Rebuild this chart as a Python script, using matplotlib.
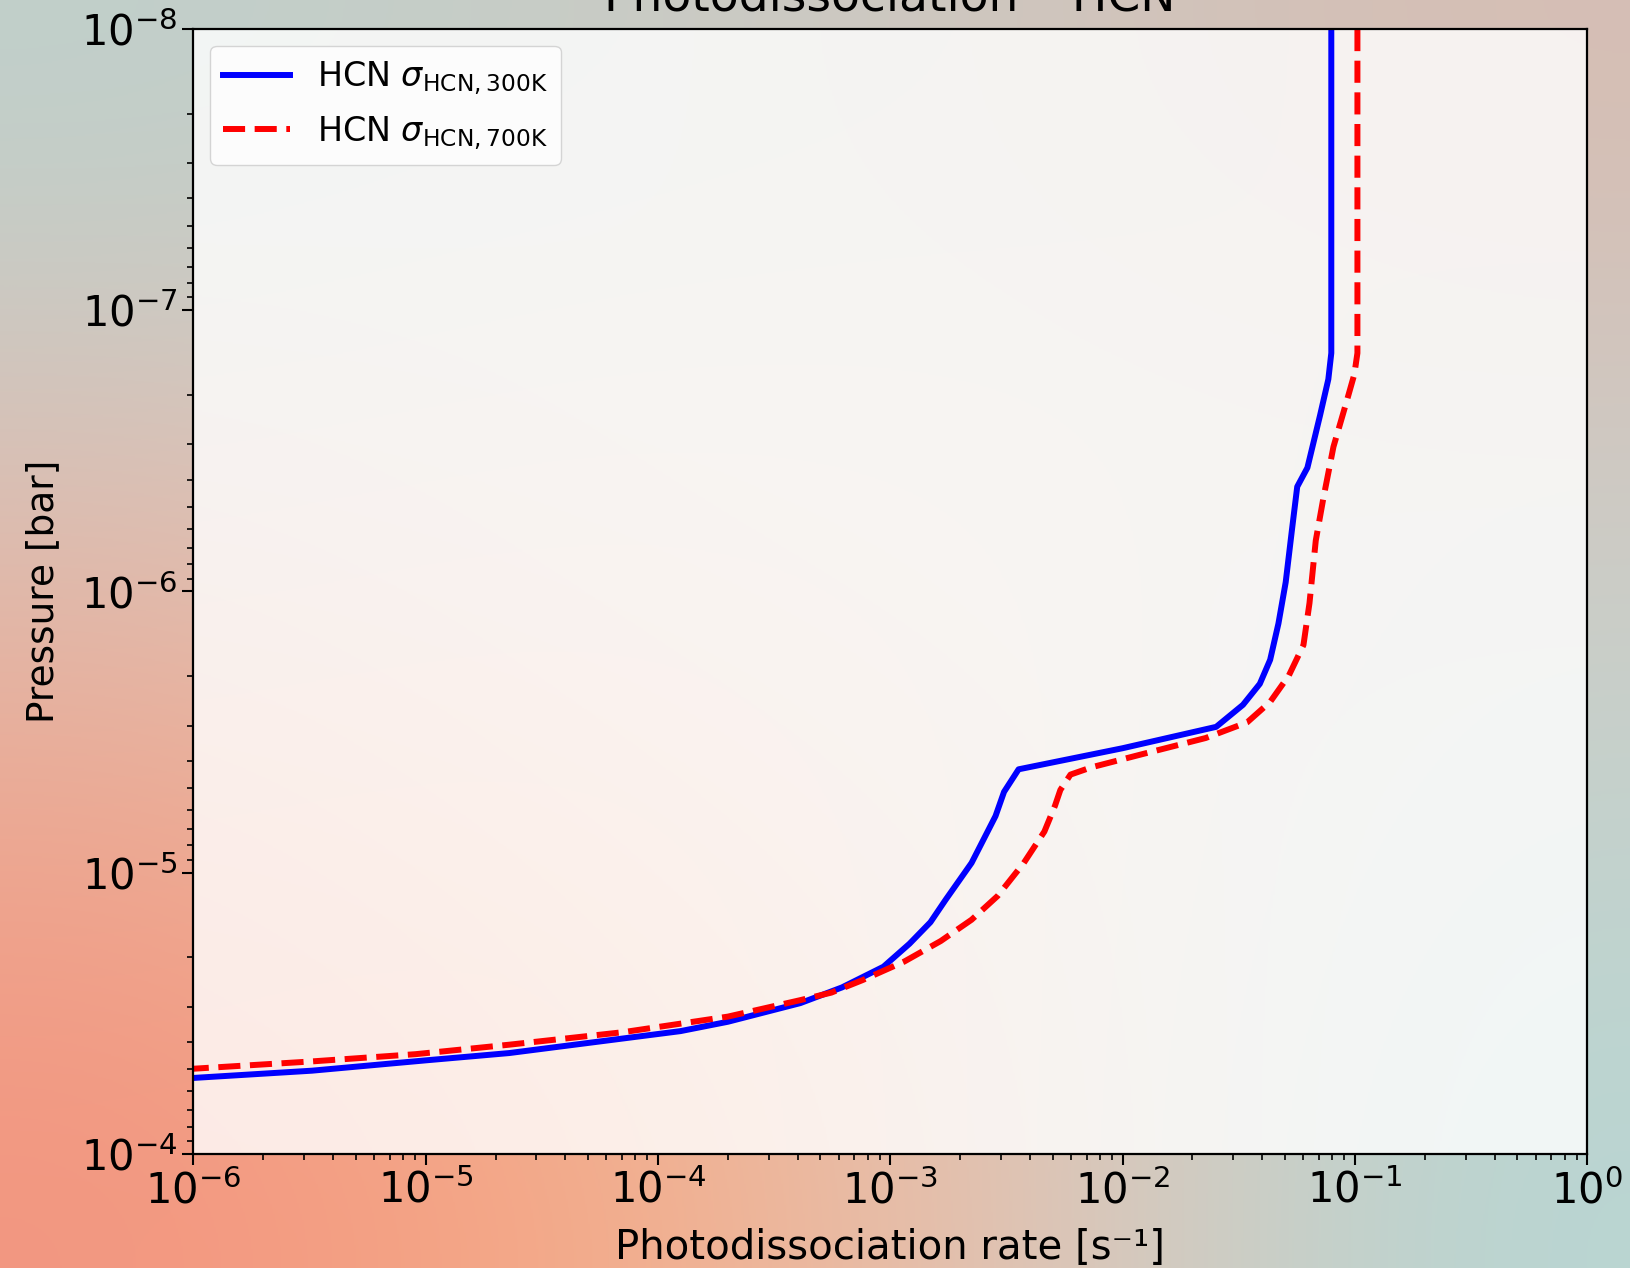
import numpy as np
import matplotlib
matplotlib.use("Agg")
import matplotlib.pyplot as plt

# HCN photodissociation rate profiles for two cross-section temperatures
rate_300k = [0.0792, 0.0792, 0.0769, 0.0708, 0.0625, 0.0565, 0.0536, 0.0504,
             0.0469, 0.0432, 0.0390, 0.0330, 0.0253, 0.0100, 3.57e-3, 3.09e-3,
             2.84e-3, 2.24e-3, 1.73e-3, 1.49e-3, 1.21e-3, 9.35e-4, 6.19e-4,
             4.10e-4, 2.00e-4, 1.25e-4, 2.29e-5, 1.00e-5, 3.24e-6, 1.00e-6]
pres_300k = [1.0e-8, 1.42e-7, 1.76e-7, 2.37e-7, 3.63e-7, 4.24e-7, 6.05e-7, 9.27e-7,
             1.30e-6, 1.75e-6, 2.13e-6, 2.53e-6, 3.03e-6, 3.61e-6, 4.29e-6, 5.16e-6,
             6.29e-6, 9.23e-6, 1.25e-5, 1.50e-5, 1.79e-5, 2.16e-5, 2.56e-5,
             2.91e-5, 3.39e-5, 3.66e-5, 4.38e-5, 4.65e-5, 5.06e-5, 5.37e-5]

rate_700k = [0.1026, 0.1026, 0.0995, 0.0925, 0.0809, 0.0769, 0.0731, 0.0679,
             0.0638, 0.0601, 0.0520, 0.0432, 0.0344, 0.0228, 0.0123, 7.35e-3,
             5.97e-3, 5.40e-3, 5.12e-3, 4.61e-3, 3.76e-3, 2.90e-3, 2.24e-3,
             1.65e-3, 1.15e-3, 7.60e-4, 5.58e-4, 4.10e-4, 2.00e-4, 7.11e-5,
             2.29e-5, 9.06e-6, 3.24e-6, 1.00e-6]
pres_700k = [1.0e-8, 1.42e-7, 1.69e-7, 2.09e-7, 3.06e-7, 3.79e-7, 4.69e-7, 6.59e-7,
             1.10e-6, 1.55e-6, 1.99e-6, 2.47e-6, 2.92e-6, 3.32e-6, 3.78e-6, 4.22e-6,
             4.48e-6, 5.08e-6, 5.78e-6, 7.14e-6, 9.23e-6, 1.21e-5, 1.47e-5,
             1.75e-5, 2.07e-5, 2.41e-5, 2.67e-5, 2.84e-5, 3.25e-5, 3.69e-5,
             4.09e-5, 4.42e-5, 4.69e-5, 4.98e-5]

labels = [r"HCN $\sigma_{\mathrm{HCN,300K}}$", r"HCN $\sigma_{\mathrm{HCN,700K}}$"]

fig = plt.figure(figsize=(16.3, 12.68), dpi=100)

# soft coloured backdrop behind the whole figure
bg = np.array([
    [[192, 208, 203], [200, 204, 198], [206, 198, 190], [214, 190, 180]],
    [[218, 192, 182], [226, 204, 194], [222, 206, 198], [206, 202, 196]],
    [[236, 170, 148], [240, 190, 165], [226, 200, 188], [196, 210, 205]],
    [[243, 150, 128], [246, 172, 134], [226, 196, 182], [184, 214, 211]],
]) / 255.0
bg_ax = fig.add_axes([0, 0, 1, 1], zorder=-1)
bg_ax.imshow(bg, aspect="auto", interpolation="bicubic", extent=[0, 1, 0, 1])
bg_ax.axis("off")

ax = fig.add_axes([0.1186, 0.0900, 0.8551, 0.8871])
ax.set_facecolor((1, 1, 1, 0.8))

ax.plot(rate_300k, pres_300k, color="blue", lw=4.3, label=labels[0])
ax.plot(rate_700k, pres_700k, color="red", lw=4.3, ls="--", label=labels[1])

ax.set_xscale("log")
ax.set_yscale("log")
ax.set_xlim(1e-6, 1e0)
ax.set_ylim(1e-4, 1e-8)

ax.set_xlabel("Photodissociation rate [s⁻¹]", fontsize=29, labelpad=11)
ax.set_ylabel("Pressure [bar]", fontsize=27, labelpad=14)
ax.tick_params(which="major", labelsize=30, length=8, width=1.5)
ax.tick_params(which="minor", length=4.3, width=1.2)
for sp in ax.spines.values():
    sp.set_linewidth(1.6)

leg = ax.legend(loc="upper left", fontsize=24, handlelength=2.0, framealpha=0.8)

fig.text(0.546, 0.992, "Photodissociation – HCN", ha="center", va="baseline", fontsize=34)

fig.savefig("out.png", dpi=100)
